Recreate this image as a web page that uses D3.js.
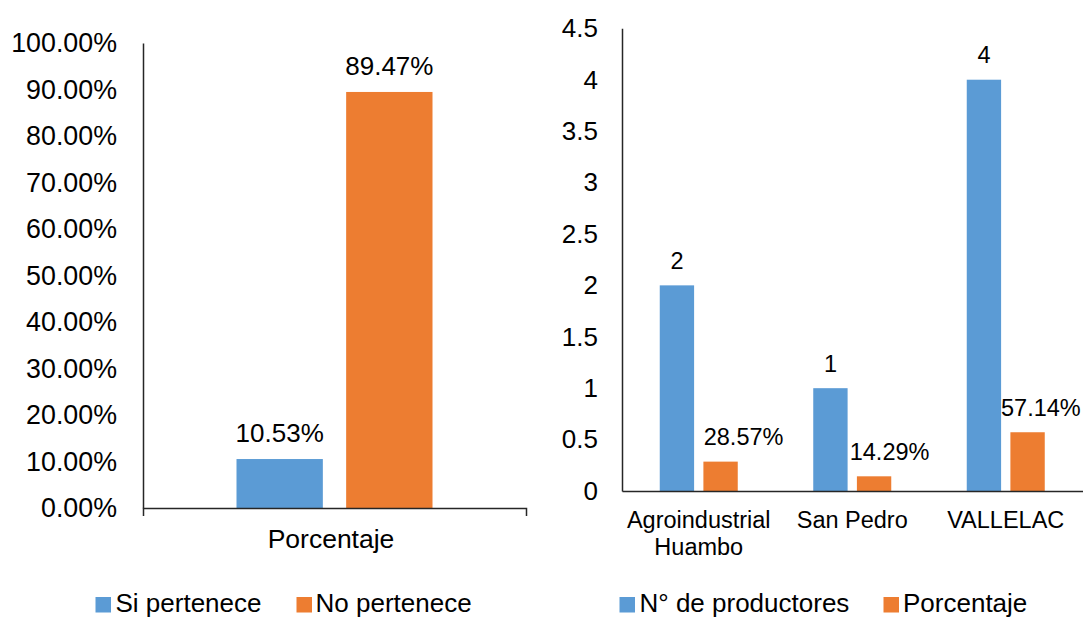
<!DOCTYPE html>
<html>
<head>
<meta charset="utf-8">
<script src="https://cdn.jsdelivr.net/npm/d3@7"></script>
<style>
  html, body { margin: 0; padding: 0; background: #fff; }
  svg { display: block; font-family: "Liberation Sans", Arial, sans-serif; }
</style>
</head>
<body>
<svg id="chart" width="1085" height="618"></svg>
<script>
// ---------- data ----------
const leftCategories = ["Porcentaje"];
const leftSeries = ["Si pertenece", "No pertenece"];
const leftValues = [0.1053, 0.8947];
const leftTicks = [0, 0.1, 0.2, 0.3, 0.4, 0.5, 0.6, 0.7, 0.8, 0.9, 1.0];

const rightCategories = ["Agroindustrial\nHuambo", "San Pedro", "VALLELAC"];
const rightSeries = ["N° de productores", "Porcentaje"];
const rightProducers = [2, 1, 4];
const rightPercent = [0.2857, 0.1429, 0.5714];
const rightTicks = [0, 0.5, 1, 1.5, 2, 2.5, 3, 3.5, 4, 4.5];

// ---------- layout / style ----------
const colors = ["#5B9BD5", "#ED7D31"];
const axisColor = "#262626";
const textColor = "#000";
const pctLabelShift = [23, 15.5, 13.3];

const svg = d3.select("#chart");

// ================= LEFT CHART =================
const L = { x0: 143, x1: 526, y0: 508, y1: 43 };
const yL = d3.scaleLinear().domain([0, 1]).range([L.y0, L.y1]);
const xL = d3.scaleBand().domain(leftCategories).range([L.x0, L.x1]);
const xL1 = d3.scaleBand().domain(leftSeries)
  .range([xL.bandwidth() / 2 - 98, xL.bandwidth() / 2 + 98]).paddingInner(0.2126);

const gL = svg.append("g");
const leftData = leftSeries.map((s, i) => ({ cat: leftCategories[0], series: s, value: leftValues[i], i }));

gL.selectAll("rect.bar").data(leftData).join("rect")
  .attr("class", "bar")
  .attr("x", d => xL(d.cat) + xL1(d.series))
  .attr("width", xL1.bandwidth())
  .attr("y", d => yL(d.value))
  .attr("height", d => yL(0) - yL(d.value))
  .attr("fill", d => colors[d.i]);

gL.selectAll("text.lbl").data(leftData).join("text")
  .attr("class", "lbl")
  .attr("x", d => xL(d.cat) + xL1(d.series) + xL1.bandwidth() / 2)
  .attr("y", d => yL(d.value) - 16.7)
  .attr("text-anchor", "middle")
  .attr("font-size", 26)
  .attr("fill", textColor)
  .text(d => d3.format(".2%")(d.value));

// y axis
const yAxisL = gL.append("g").attr("transform", `translate(${L.x0},0)`)
  .call(d3.axisLeft(yL).tickValues(leftTicks).tickFormat(d3.format(".2%"))
    .tickSizeInner(0).tickSizeOuter(0).tickPadding(26));
yAxisL.select(".domain").attr("stroke", axisColor).attr("stroke-width", 1.5);
yAxisL.selectAll("text").attr("font-size", 26.8).attr("fill", textColor).attr("font-family", null);

// x axis
const xAxisL = gL.append("g").attr("transform", `translate(0,${L.y0})`)
  .call(d3.axisBottom(xL).tickSizeInner(0).tickSizeOuter(8).tickPadding(21.5));
xAxisL.select(".domain").attr("stroke", axisColor).attr("stroke-width", 1.5);
xAxisL.selectAll("text").attr("font-size", 26.5).attr("fill", textColor).attr("font-family", null)
  .attr("dx", -3.5);

// ================= RIGHT CHART =================
const R = { x0: 622, x1: 1082.5, y0: 491, y1: 28.3 };
const yR = d3.scaleLinear().domain([0, 4.5]).range([R.y0, R.y1]);
const xR = d3.scaleBand().domain(rightCategories).range([R.x0, R.x1]);
const xR1 = d3.scaleBand().domain(rightSeries)
  .range([xR.bandwidth() / 2 - 39, xR.bandwidth() / 2 + 39]).paddingInner(0.213);

const gR = svg.append("g");
const rightData = [];
rightCategories.forEach((c, k) => {
  rightData.push({ cat: c, series: rightSeries[0], value: rightProducers[k], i: 0, k, label: String(rightProducers[k]) });
  rightData.push({ cat: c, series: rightSeries[1], value: rightPercent[k], i: 1, k, label: d3.format(".2%")(rightPercent[k]) });
});

gR.selectAll("rect.bar").data(rightData).join("rect")
  .attr("class", "bar")
  .attr("x", d => xR(d.cat) + xR1(d.series))
  .attr("width", xR1.bandwidth())
  .attr("y", d => yR(d.value))
  .attr("height", d => yR(0) - yR(d.value))
  .attr("fill", d => colors[d.i]);

gR.selectAll("text.lbl").data(rightData).join("text")
  .attr("class", "lbl")
  .attr("x", d => xR(d.cat) + xR1(d.series) + xR1.bandwidth() / 2 + (d.i === 1 ? pctLabelShift[d.k] : 0))
  .attr("y", d => yR(d.value) - 16.5)
  .attr("text-anchor", "middle")
  .attr("font-size", 23.5)
  .attr("fill", textColor)
  .text(d => d.label);

const yAxisR = gR.append("g").attr("transform", `translate(${R.x0},0)`)
  .call(d3.axisLeft(yR).tickValues(rightTicks).tickFormat(d3.format(""))
    .tickSizeInner(0).tickSizeOuter(0).tickPadding(24));
yAxisR.select(".domain").attr("stroke", axisColor).attr("stroke-width", 1.5);
yAxisR.selectAll("text").attr("font-size", 26).attr("fill", textColor).attr("font-family", null);

const xAxisR = gR.append("g").attr("transform", `translate(0,${R.y0})`)
  .call(d3.axisBottom(xR).tickSizeInner(0).tickSizeOuter(0).tickPadding(20));
xAxisR.select(".domain").attr("stroke", axisColor).attr("stroke-width", 1.5);
xAxisR.selectAll("text").attr("font-size", 23.5).attr("fill", textColor).attr("font-family", null)
  .each(function (d) {
    const t = d3.select(this);
    const lines = d.split("\n");
    t.text(null);
    lines.forEach((ln, j) => {
      t.append("tspan").attr("x", 0).attr("dy", j === 0 ? "0.71em" : "1.15em").text(ln);
    });
  }).attr("dy", null);

// ================= LEGENDS =================
function legend(items, positions) {
  const g = svg.append("g");
  items.forEach((name, i) => {
    const p = positions[i];
    g.append("rect").attr("x", p.sx).attr("y", 597).attr("width", 15.5).attr("height", 15.5).attr("fill", colors[i]);
    g.append("text").attr("x", p.tx).attr("y", 612.3).attr("font-size", 26).attr("fill", textColor).text(name);
  });
}
legend(leftSeries, [{ sx: 95.5, tx: 115.5 }, { sx: 296.5, tx: 315.5 }]);
legend(rightSeries, [{ sx: 619.5, tx: 639.5 }, { sx: 883.5, tx: 903 }]);
</script>
</body>
</html>
